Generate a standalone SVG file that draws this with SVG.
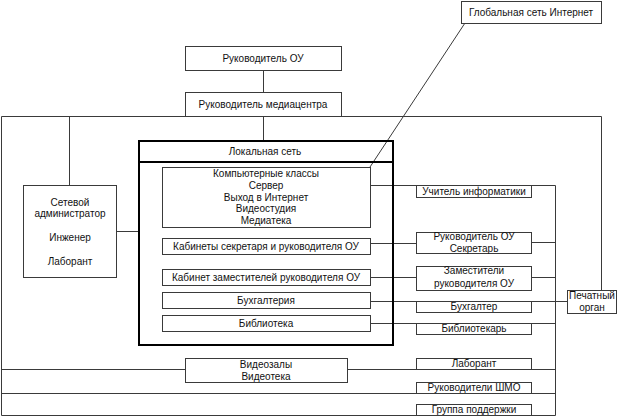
<svg xmlns="http://www.w3.org/2000/svg" width="622" height="417" viewBox="0 0 622 417">
<style>
.b{fill:#fff;stroke:#3a3a3a;stroke-width:1}
.t{font-family:"Liberation Sans",Arial,sans-serif;font-size:10px;fill:#111;text-anchor:middle}
.c{fill:none;stroke:#3a3a3a;stroke-width:1}
</style>
<rect width="622" height="417" fill="#fff"/>
<g id="connectors" class="c">
<polyline points="1.5,415.5 1.5,116.5 601.5,116.5 601.5,290"/>
<line x1="69.5" y1="116.5" x2="69.5" y2="185"/>
<line x1="263.5" y1="70" x2="263.5" y2="92"/>
<line x1="263.5" y1="116.5" x2="263.5" y2="140"/>
<line x1="465" y1="23" x2="370" y2="167"/>
<line x1="117" y1="231.5" x2="138" y2="231.5"/>
<line x1="370" y1="185.5" x2="555.5" y2="185.5"/>
<line x1="555.5" y1="185.5" x2="555.5" y2="415.5"/>
<line x1="370" y1="243.5" x2="416" y2="243.5"/>
<line x1="531" y1="242.5" x2="555.5" y2="242.5"/>
<line x1="370" y1="277.5" x2="416" y2="277.5"/>
<line x1="531" y1="277.5" x2="555.5" y2="277.5"/>
<line x1="370" y1="301.5" x2="567" y2="301.5"/>
<line x1="370" y1="323.5" x2="555.5" y2="323.5"/>
<line x1="1.5" y1="369.5" x2="185" y2="369.5"/>
<line x1="347" y1="369.5" x2="555.5" y2="369.5"/>
<line x1="1.5" y1="393.5" x2="555.5" y2="393.5"/>
<line x1="1.5" y1="415.5" x2="555.5" y2="415.5"/>
</g>
<g id="global"><rect class="b" x="461.5" y="1.5" width="140" height="22"/><text class="t" x="531" y="16">Глобальная сеть Интернет</text></g>
<g id="head"><rect class="b" x="185.5" y="46.5" width="156" height="24"/><text class="t" x="263" y="62">Руководитель ОУ</text></g>
<g id="media"><rect class="b" x="185.5" y="92.5" width="156" height="24"/><text class="t" x="263" y="108">Руководитель медиацентра</text></g>
<g id="admin"><rect class="b" x="23.5" y="185.5" width="93" height="92"/>
<text class="t" x="70" y="206">Сетевой</text><text class="t" x="70" y="217">администратор</text><text class="t" x="70" y="241">Инженер</text><text class="t" x="70" y="265">Лаборант</text></g>
<g id="lan"><rect x="139" y="141" width="254" height="204" fill="none" stroke="#000" stroke-width="2"/><line x1="139" y1="162" x2="393" y2="162" stroke="#000" stroke-width="2"/><text class="t" x="265" y="155">Локальная сеть</text></g>
<g id="classes"><rect class="b" x="162.5" y="167.5" width="208" height="60"/>
<text class="t" x="266" y="177">Компьютерные классы</text><text class="t" x="266" y="189">Сервер</text><text class="t" x="266" y="201">Выход в Интернет</text><text class="t" x="266" y="212">Видеостудия</text><text class="t" x="266" y="224">Медиатека</text></g>
<g id="cab1"><rect class="b" x="162.5" y="238.5" width="208" height="16"/><text class="t" x="266" y="250">Кабинеты секретаря и руководителя ОУ</text></g>
<g id="cab2"><rect class="b" x="162.5" y="269.5" width="208" height="16"/><text class="t" x="266" y="281">Кабинет заместителей руководителя ОУ</text></g>
<g id="acc"><rect class="b" x="162.5" y="292.5" width="208" height="16"/><text class="t" x="266" y="304">Бухгалтерия</text></g>
<g id="lib"><rect class="b" x="162.5" y="315.5" width="208" height="16"/><text class="t" x="266" y="327">Библиотека</text></g>
<g id="video"><rect class="b" x="185.5" y="358.5" width="162" height="24"/><text class="t" x="266" y="368">Видеозалы</text><text class="t" x="266" y="380">Видеотека</text></g>
<g id="teacher"><rect class="b" x="416.5" y="185.5" width="115" height="12"/><text class="t" x="474" y="195">Учитель информатики</text></g>
<g id="secr"><rect class="b" x="416.5" y="232.5" width="115" height="21"/><text class="t" x="474" y="240">Руководитель ОУ</text><text class="t" x="474" y="252">Секретарь</text></g>
<g id="deputy"><rect class="b" x="416.5" y="266.5" width="115" height="24"/><text class="t" x="474" y="274">Заместители</text><text class="t" x="474" y="287">руководителя ОУ</text></g>
<g id="accountant"><rect class="b" x="416.5" y="301.5" width="115" height="11"/><text class="t" x="474" y="310">Бухгалтер</text></g>
<g id="librarian"><rect class="b" x="416.5" y="323.5" width="115" height="11"/><text class="t" x="474" y="332">Библиотекарь</text></g>
<g id="lab"><rect class="b" x="416.5" y="358.5" width="115" height="11"/><text class="t" x="474" y="367">Лаборант</text></g>
<g id="shmo"><rect class="b" x="416.5" y="382.5" width="115" height="11"/><text class="t" x="474" y="391">Руководители ШМО</text></g>
<g id="support"><rect class="b" x="416.5" y="404.5" width="115" height="11"/><text class="t" x="474" y="413">Группа поддержки</text></g>
<g id="press"><rect class="b" x="567.5" y="290.5" width="49" height="23"/><text class="t" x="592" y="299">Печатный</text><text class="t" x="592" y="311">орган</text></g>
</svg>
